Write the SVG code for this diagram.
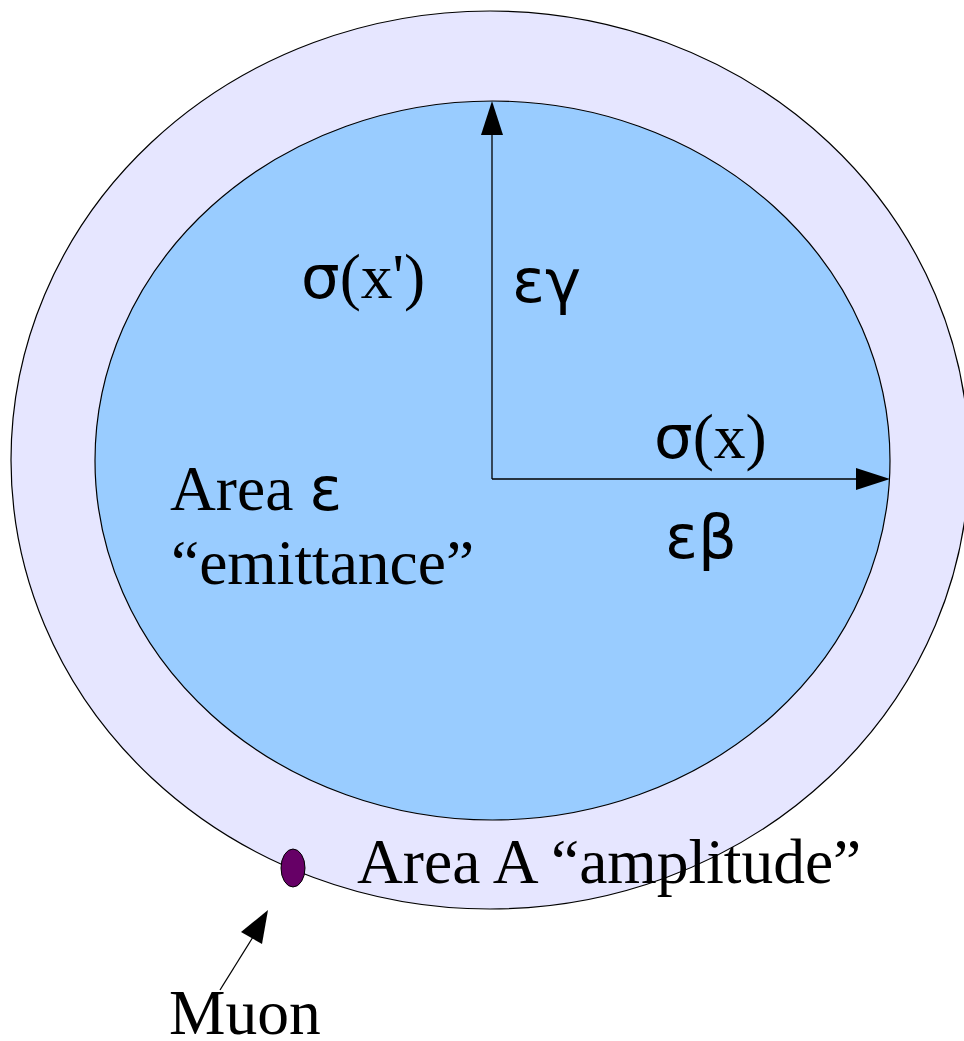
<svg xmlns="http://www.w3.org/2000/svg" width="964" height="1041" viewBox="0 0 964 1041">
<style>
.serif{font-family:"Liberation Serif","Times New Roman",serif;font-size:63.5px;fill:#000}
.sans{font-family:"DejaVu Sans","Liberation Sans",sans-serif;font-size:61px;fill:#000}
.edge{stroke:#000;stroke-width:1.3;fill:none}
.arrowhead{fill:#000;stroke:none}
</style>
<rect width="964" height="1041" fill="#fff"/>
<g id="outer-area">
<ellipse cx="490" cy="460" rx="479" ry="449" fill="#e6e6ff" stroke="#000" stroke-width="1.2"/>
</g>
<g id="inner-area">
<ellipse cx="492.5" cy="460.5" rx="397.5" ry="359.5" fill="#99ccff" stroke="#000" stroke-width="1.2"/>
</g>
<g id="connectors">
<line class="edge" x1="492" y1="479" x2="492" y2="132"/>
<polygon class="arrowhead" points="492,101 503,135 481,135"/>
<line class="edge" x1="492" y1="479" x2="860" y2="479"/>
<polygon class="arrowhead" points="890,479 856,468 856,490"/>
<line class="edge" x1="220" y1="990" x2="253" y2="937"/>
<polygon class="arrowhead" points="268,910 241,932 262,944"/>
</g>
<g id="muon">
<ellipse cx="293" cy="868" rx="12" ry="19" fill="#660066" stroke="#000" stroke-width="1"/>
</g>
<g id="labels">
<text x="301" y="298"><tspan class="sans">σ</tspan><tspan class="serif">(x')</tspan></text>
<text class="sans" x="512" y="302">εγ</text>
<text x="654" y="458"><tspan class="sans">σ</tspan><tspan class="serif">(x)</tspan></text>
<text class="sans" x="665" y="558">εβ</text>
<text x="170" y="510"><tspan class="serif">Area </tspan><tspan class="sans">ε</tspan></text>
<text class="serif" x="171" y="584">“emittance”</text>
<text class="serif" x="357" y="883">Area A “amplitude”</text>
<text class="serif" x="169" y="1034">Muon</text>
</g>
</svg>
